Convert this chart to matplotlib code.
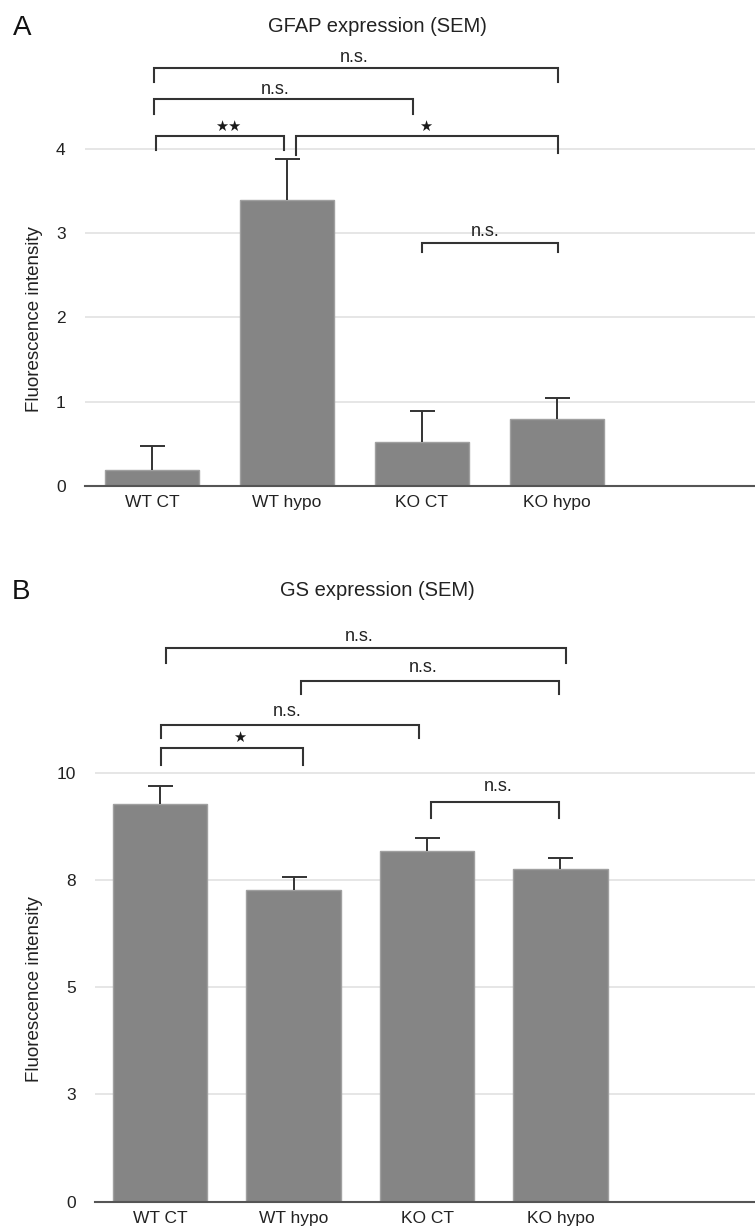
import numpy as np
import matplotlib.pyplot as plt

plt.rcParams['font.family'] = ['Liberation Sans', 'DejaVu Sans']

W, H = 755, 1229

groups = ['WT CT', 'WT hypo', 'KO CT', 'KO hypo']

# panel A - GFAP
gfap_mean = [0.19, 3.39, 0.52, 0.79]
gfap_sem = [0.285, 0.49, 0.37, 0.25]
# brackets: x1, x2, y, leg1 bottom, leg2 bottom, label, label x, label y
gfap_brackets = [
    (0.015, 3.007, 4.964, 4.79, 4.79, 'n.s.', 1.50, 5.08),
    (0.015, 1.93, 4.59, 4.42, 4.42, 'n.s.', 0.91, 4.70),
    (0.03, 0.978, 4.157, 3.99, 3.99, '★★', 0.563, 4.27),
    (1.07, 3.005, 4.157, 3.93, 3.95, '★', 2.03, 4.27),
    (2.0, 3.01, 2.88, 2.78, 2.78, 'n.s.', 2.47, 3.02),
]

# panel B - GS
gs_mean = [9.27, 7.26, 8.17, 7.76]
gs_sem = [0.43, 0.31, 0.30, 0.26]
gs_brackets = [
    (0.045, 3.04, 12.90, 12.55, 12.55, 'n.s.', 1.49, 13.17),
    (1.057, 2.99, 12.14, 11.83, 11.83, 'n.s.', 1.97, 12.46),
    (0.0075, 1.94, 11.11, 10.82, 10.82, 'n.s.', 0.956, 11.42),
    (0.0075, 1.07, 10.57, 10.19, 10.19, '★', 0.594, 10.82),
    (2.03, 2.99, 9.32, 8.94, 8.94, 'n.s.', 2.53, 9.67),
]

gfap_ticks = [0, 1, 2, 3, 4]
gfap_ticklabels = ['0', '1', '2', '3', '4']
gs_ticks = [0, 2.5, 5, 7.5, 10]
gs_ticklabels = ['0', '3', '5', '8', '10']

fig = plt.figure(figsize=(W / 100, H / 100), dpi=100)


def px_axes(left, right, bottom, top):
    return fig.add_axes([left / W, 1 - bottom / H, (right - left) / W, (bottom - top) / H])


def panel(ax, means, sems, brackets, ticks, ticklabels, ylim, xlim, width):
    x = np.arange(len(means))
    ax.bar(x, means, width=width, color='#858585', edgecolor='#a0a0a0', linewidth=1, zorder=2)
    eb = ax.errorbar(x, means, yerr=[np.zeros(len(sems)), sems], fmt='none',
                     ecolor='#333333', elinewidth=1.4, capsize=9, capthick=1.4, zorder=3)
    eb[1][0].set_visible(False)
    ax.set_xlim(*xlim)
    ax.set_ylim(*ylim)
    ax.set_yticks(ticks)
    ax.set_yticklabels(ticklabels)
    ax.set_xticks(x)
    ax.set_xticklabels(groups)
    ax.grid(axis='y', color='#e6e6e6', lw=1.4, zorder=0)
    ax.set_axisbelow(True)
    for s in ['left', 'right', 'top']:
        ax.spines[s].set_visible(False)
    ax.spines['bottom'].set_color('#555555')
    ax.spines['bottom'].set_linewidth(1.5)
    ax.spines['bottom'].set_zorder(4)
    ax.tick_params(axis='y', length=0, pad=14, labelsize=12.5, labelcolor='#222222')
    ax.tick_params(axis='x', length=0, pad=7, labelsize=12.5, labelcolor='#222222')
    for x1, x2, y, b1, b2, lab, tx, ty in brackets:
        ax.plot([x1, x1, x2, x2], [b1, y, y, b2], color='#333333', lw=1.5,
                solid_joinstyle='miter', zorder=5)
        if '★' in lab:
            ax.text(tx, ty, lab, ha='center', va='center', fontsize=10.5,
                    family='DejaVu Sans', color='#1a1a1a')
        else:
            ax.text(tx, ty, lab, ha='center', va='center', fontsize=13, color='#222222')


axA = px_axes(85, 755, 485.7, 14.2)
panel(axA, gfap_mean, gfap_sem, gfap_brackets, gfap_ticks, gfap_ticklabels,
      (0, 5.6), (-0.496, 4.467), 0.70)

axB = px_axes(95, 755, 1201.7, 618.3)
panel(axB, gs_mean, gs_sem, gs_brackets, gs_ticks, gs_ticklabels,
      (0, 13.6), (-0.487, 4.457), 0.71)

fig.text(377.5 / W, 1 - 27 / H, 'GFAP expression (SEM)', ha='center', va='center', fontsize=14.5, color='#222222')
fig.text(377.5 / W, 1 - 590 / H, 'GS expression (SEM)', ha='center', va='center', fontsize=14.5, color='#222222')
fig.text(22 / W, 1 - 28 / H, 'A', ha='center', va='center', fontsize=20, color='#111111')
fig.text(21 / W, 1 - 592 / H, 'B', ha='center', va='center', fontsize=20, color='#111111')
fig.text(34.5 / W, 1 - 319 / H, 'Fluorescence intensity', rotation=90, ha='center', va='center',
         fontsize=13.5, color='#222222')
fig.text(34.5 / W, 1 - 989 / H, 'Fluorescence intensity', rotation=90, ha='center', va='center',
         fontsize=13.5, color='#222222')

fig.savefig('out.png', dpi=100, facecolor='white')
